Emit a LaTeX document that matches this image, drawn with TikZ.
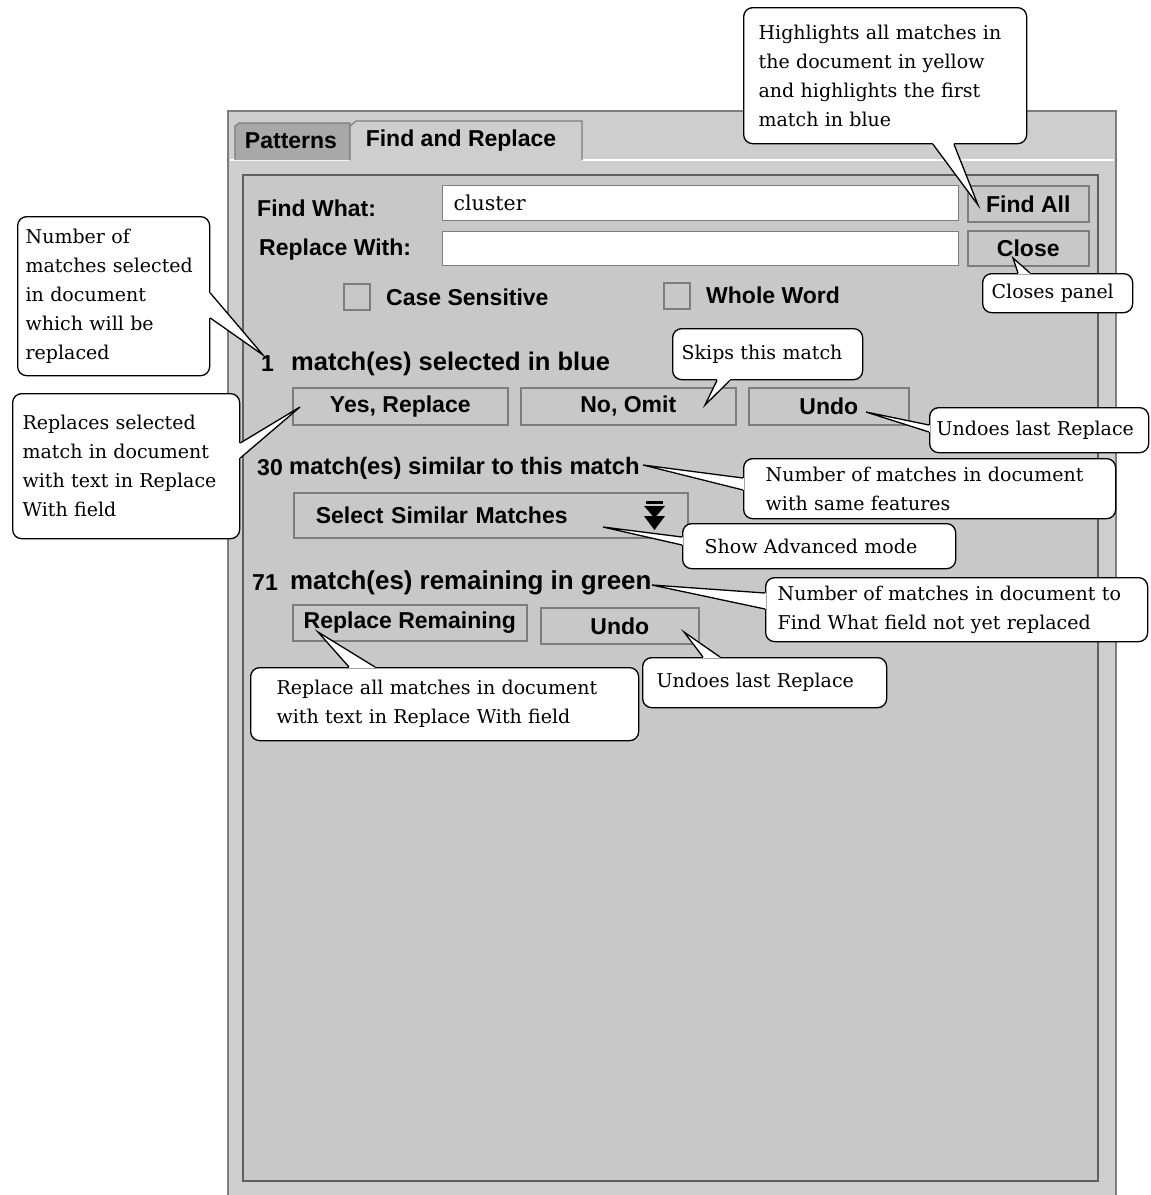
\documentclass[tikz,border=0pt]{standalone}
\usepackage{fontspec}
\newfontfamily\uifont{Liberation Sans}
\newfontfamily\notefont{DejaVu Serif}
\usetikzlibrary{calc}

\definecolor{panelgray}{RGB}{200,200,200}
\definecolor{windowgray}{RGB}{206,206,206}
\definecolor{tabgray}{RGB}{168,168,168}
\definecolor{edgegray}{RGB}{125,125,125}
\definecolor{darkedge}{RGB}{95,95,95}

\tikzset{
  uilabel/.style={font=\uifont\bfseries\fontsize{#1}{#1}\selectfont, inner sep=0pt},
  uilabel/.default=23,
  button/.style={draw=edgegray, fill=panelgray, line width=1.6pt, inner sep=0pt,
    anchor=north west, font=\uifont\bfseries\fontsize{23}{23}\selectfont},
  field/.style={draw=edgegray, fill=white, line width=1.4pt, anchor=north west,
    inner ysep=0pt, align=left, font=\notefont\fontsize{20.5}{20.5}\selectfont},
  checkbox/.style={draw=edgegray, line width=1.2pt, minimum size=26pt, inner sep=0pt},
  callout/.style={draw, fill=white, line width=1.3pt, rounded corners=9pt,
    anchor=north west, align=left, inner ysep=3pt, font=\notefont\fontsize{19}{29}\selectfont}
}

\newcommand\calltail[3]{%
  \fill[white] #1 -- #3 -- #2 -- cycle;
  \draw[white, line width=2.8pt] #1 -- #2;
  \draw[line width=1.3pt] #1 -- #3 -- #2;}

\begin{document}
\begin{tikzpicture}[x=1pt,y=-1pt]
\useasboundingbox (0,0) rectangle (1151,1195);
\fill[white] (0,0) rectangle (1151,1195);

\fill[windowgray] (228,111) rectangle (1116,1195);
\draw[edgegray, line width=1.5pt] (228,1195) -- (228,111) -- (1116,111) -- (1116,1195);
\draw[white, line width=1.5pt] (230,160) -- (350,160) (582,160) -- (1114,160);
\draw[edgegray, fill=tabgray, line width=1.2pt] (235,160) -- (235,126) -- (239,123) -- (350,123) -- (350,160);
\draw[edgegray, fill=windowgray, line width=1.2pt] (350,160) -- (350,126) -- (356,121) -- (582,121) -- (582,160);
\node[uilabel] (patternstab) at (291,141) {Patterns};
\node[uilabel] (findtab) at (461,141) {Find and Replace};

\draw[darkedge, fill=panelgray, line width=1.8pt] (243,175) rectangle (1098,1181);

\node[uilabel, anchor=west] (findlbl) at (257,208) {Find What:};
\node[uilabel, anchor=west] (repllbl) at (259,250) {Replace With:};
\node[field, text width=494pt, inner xsep=11pt, minimum height=35pt] (findfld) at (442,185) {cluster};
\node[field, text width=494pt, inner xsep=11pt, minimum height=34pt] (replfld) at (442,231) {};
\node[button, minimum width=121pt, minimum height=36pt] (findall) at (967,185) {Find All};
\node[button, minimum width=121pt, minimum height=35pt] (closebtn) at (967,230) {Close};

\node[checkbox] (casechk) at (357,297) {};
\node[uilabel, anchor=west] (caselbl) at (386,297) {Case Sensitive};
\node[checkbox] (wordchk) at (677,296) {};
\node[uilabel, anchor=west] (wordlbl) at (706,295) {Whole Word};

\node[uilabel, anchor=east] (selnum) at (274,364) {1};
\node[uilabel=25.5, anchor=west] (selrow) at (291,364) {match(es) selected in blue};
\node[button, minimum width=215pt, minimum height=37pt] (yesbtn) at (292,387) {Yes, Replace};
\node[button, minimum width=215pt, minimum height=37pt] (omitbtn) at (520,387) {No, Omit};
\node[button, minimum width=160pt, minimum height=37pt] (undobtn) at (748,387) {Undo};

\node[uilabel, anchor=east] (simnum) at (283,468) {30};
\node[uilabel=23.8, anchor=west] (simrow) at (289,468) {match(es) similar to this match};
\node[button, text width=350pt, inner xsep=22pt, align=left, minimum height=45pt] (simbtn) at (293,492) {Select Similar Matches};
\fill (646,501) rectangle (663,504);
\fill (644,506) -- (665,506) -- (654.5,518) -- cycle;
\fill (644,516) -- (665,516) -- (654.5,530) -- cycle;

\node[uilabel, anchor=east] (remnum) at (278,583) {71};
\node[uilabel=25.9, anchor=west] (remrow) at (290,583) {match(es) remaining in green};
\node[button, minimum width=234pt, minimum height=36pt] (remainbtn) at (292,604) {Replace Remaining};
\node[button, minimum width=158pt, minimum height=36pt] (undotwobtn) at (540,607) {Undo};

\coordinate (findalltip) at (978,205);
\coordinate (closetip) at (1013,258);
\coordinate (onetip) at (263,355);
\coordinate (yestip) at (300,407);
\coordinate (omittip) at (705,405);
\coordinate (undotip) at (866,412);
\coordinate (similartip) at (643,465);
\coordinate (arrowtip) at (603,527);
\coordinate (greentip) at (652,585);
\coordinate (remaintip) at (318,632);
\coordinate (undotwotip) at (684,632);

\node[callout, inner xsep=15pt, text width=253pt, minimum height=136pt] (hl) at (743,7)
  {Highlights all matches in\\the document in yellow\\and highlights the first\\match in blue};
\calltail{($(hl.south west)+(190,0)$)}{($(hl.south west)+(211,0)$)}{(findalltip)}

\node[callout, inner xsep=9pt, text width=132pt, minimum height=39pt] (closes) at (982,273) {Closes panel};
\calltail{($(closes.north west)+(36,0)$)}{($(closes.north west)+(48,0)$)}{(closetip)}

\node[callout, inner xsep=8pt, text width=176pt, minimum height=159pt] (selcount) at (17,216)
  {Number of\\matches selected\\in document\\which will be\\replaced};
\calltail{($(selcount.north east)+(0,77)$)}{($(selcount.north east)+(0,102)$)}{(onetip)}

\node[callout, inner xsep=10pt, text width=207pt, minimum height=145pt] (replone) at (12,393)
  {Replaces selected\\match in document\\with text in Replace\\With field};
\calltail{($(replone.north east)+(0,50)$)}{($(replone.north east)+(0,65)$)}{(yestip)}

\node[callout, inner xsep=9pt, text width=172pt, minimum height=51pt] (skips) at (672,328) {Skips this match};
\calltail{($(skips.south west)+(45,0)$)}{($(skips.south west)+(58,0)$)}{(omittip)}

\node[callout, inner xsep=7pt, text width=205pt, minimum height=45pt] (undoone) at (929,407) {Undoes last Replace};
\calltail{($(undoone.north west)+(0,18)$)}{($(undoone.north west)+(0,25)$)}{(undotip)}

\node[callout, inner xsep=22pt, text width=328pt, minimum height=60pt] (features) at (743,458)
  {Number of matches in document\\with same features};
\calltail{($(features.north west)+(0,20)$)}{($(features.north west)+(0,32)$)}{(similartip)}

\node[callout, inner xsep=22pt, text width=229pt, minimum height=45pt] (advanced) at (682,523) {Show Advanced mode};
\calltail{($(advanced.north west)+(0,14)$)}{($(advanced.north west)+(0,22)$)}{(arrowtip)}

\node[callout, inner xsep=12pt, text width=358pt, minimum height=64pt] (notyet) at (765,577)
  {Number of matches in document to\\Find What field not yet replaced};
\calltail{($(notyet.north west)+(0,16)$)}{($(notyet.north west)+(0,32)$)}{(greentip)}

\node[callout, inner xsep=26pt, text width=336pt, minimum height=73pt] (replall) at (250,667)
  {Replace all matches in document\\with text in Replace With field};
\calltail{($(replall.north west)+(99,0)$)}{($(replall.north west)+(125,0)$)}{(remaintip)}

\node[callout, inner xsep=14pt, text width=216pt, minimum height=50pt] (undotwo) at (642,657) {Undoes last Replace};
\calltail{($(undotwo.north west)+(61,0)$)}{($(undotwo.north west)+(78,0)$)}{(undotwotip)}
\end{tikzpicture}
\end{document}
